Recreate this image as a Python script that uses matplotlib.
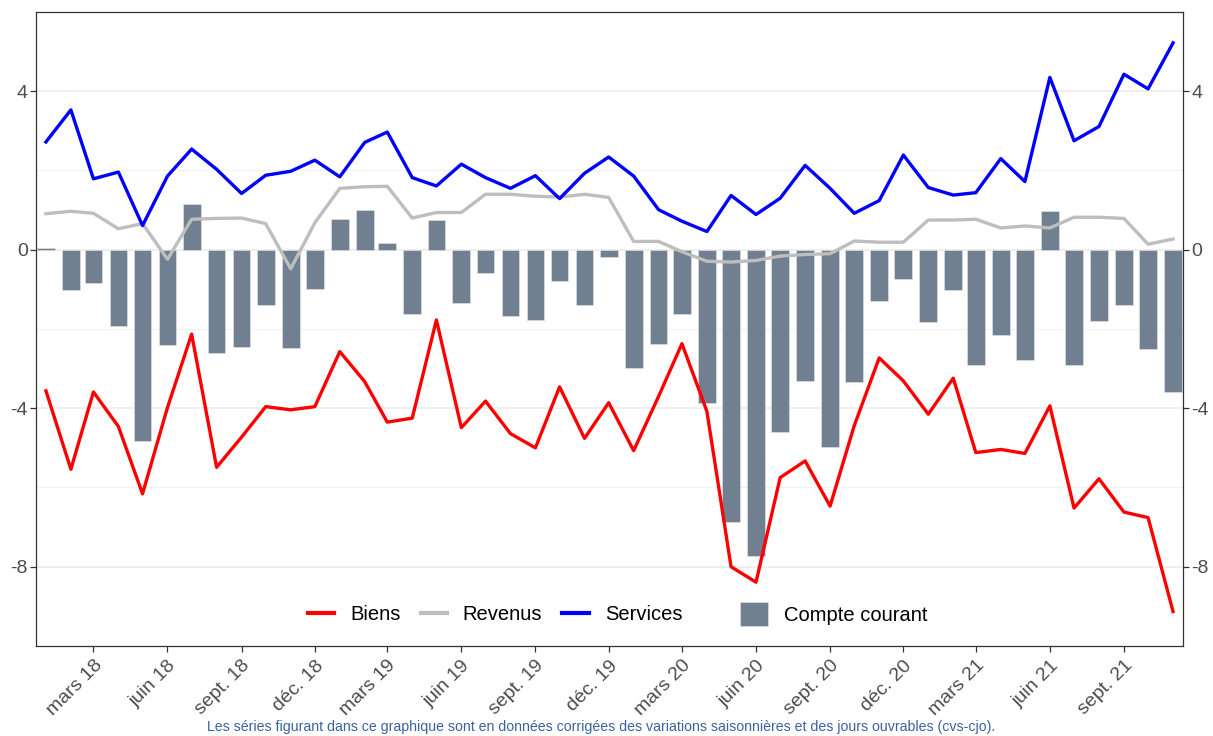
import numpy as np
import pandas as pd
import matplotlib
matplotlib.use("Agg")
from matplotlib import pyplot as plt
from matplotlib.lines import Line2D
from matplotlib.patches import Patch

plt.rcParams['font.family'] = ['Liberation Sans', 'DejaVu Sans']

# monthly data, Jan 2018 -> Nov 2021
months = pd.date_range('2018-01-01', '2021-11-01', freq='MS')

biens = [-3.56, -5.54, -3.59, -4.46, -6.16, -3.98, -2.13, -5.49, -4.73, -3.96,
         -4.04, -3.96, -2.57, -3.33, -4.35, -4.25, -1.77, -4.49, -3.82, -4.64,
         -5.00, -3.46, -4.76, -3.86, -5.07, -3.70, -2.37, -4.08, -8.00, -8.39,
         -5.75, -5.33, -6.47, -4.44, -2.73, -3.31, -4.15, -3.24, -5.12, -5.04,
         -5.14, -3.94, -6.52, -5.78, -6.62, -6.76, -9.13]

revenus = [0.91, 0.97, 0.92, 0.53, 0.66, -0.24, 0.77, 0.79, 0.80, 0.66,
           -0.48, 0.68, 1.55, 1.59, 1.60, 0.80, 0.94, 0.94, 1.40, 1.40,
           1.35, 1.33, 1.40, 1.32, 0.21, 0.21, -0.05, -0.29, -0.31, -0.27,
           -0.16, -0.12, -0.10, 0.22, 0.19, 0.19, 0.75, 0.75, 0.77, 0.55,
           0.60, 0.55, 0.82, 0.82, 0.79, 0.14, 0.27]

services = [2.72, 3.53, 1.79, 1.96, 0.61, 1.86, 2.54, 2.03, 1.42, 1.88,
            1.98, 2.26, 1.84, 2.71, 2.97, 1.82, 1.61, 2.16, 1.82, 1.55,
            1.87, 1.29, 1.93, 2.34, 1.86, 1.01, 0.72, 0.46, 1.37, 0.89,
            1.30, 2.13, 1.55, 0.92, 1.24, 2.39, 1.57, 1.38, 1.44, 2.30,
            1.72, 4.35, 2.75, 3.11, 4.43, 4.06, 5.22]

compte_courant = [0.05, -1.01, -0.85, -1.93, -4.83, -2.40, 1.16, -2.61, -2.46, -1.40,
                  -2.49, -1.00, 0.77, 1.00, 0.18, -1.61, 0.74, -1.35, -0.58, -1.67,
                  -1.77, -0.79, -1.40, -0.19, -2.98, -2.39, -1.62, -3.86, -6.88, -7.73,
                  -4.59, -3.30, -4.99, -3.34, -1.29, -0.73, -1.82, -1.02, -2.90, -2.14,
                  -2.77, 0.97, -2.90, -1.81, -1.39, -2.51, -3.59]

mois = ['mars', 'juin', 'sept.', 'déc.']
tick_dates = pd.date_range('2018-03-01', '2021-09-01', freq='3MS')
tick_labels = [mois[(d.month - 3) // 3] + ' ' + str(d.year)[2:] for d in tick_dates]

caption = ("Les séries figurant dans ce graphique sont en données corrigées "
           "des variations saisonnières et des jours ouvrables (cvs-cjo).")

fig = plt.figure(figsize=(12.13, 7.36), dpi=100)
ax = fig.add_axes([0.0297, 0.1223, 0.9456, 0.8614])

for y in [-6, -2, 2]:
    ax.axhline(y, color='#f2f2f2', lw=0.8, zorder=0)
for y in [-8, -4, 0, 4]:
    ax.axhline(y, color='#ebebeb', lw=1.1, zorder=0)

ax.bar(months, compte_courant, width=22, color='#708090', edgecolor='#e6e6e6',
       linewidth=0.4, zorder=2)
ax.plot(months, biens, color='#ff0000', lw=2.4, zorder=3)
ax.plot(months, revenus, color='#bebebe', lw=2.4, zorder=3)
ax.plot(months, services, color='#0000ff', lw=2.4, zorder=4)

ax.set_ylim(-10, 6)
ax.set_xlim(months[0] - pd.Timedelta(days=12.3), months[-1] + pd.Timedelta(days=12.4))
ax.set_yticks([-8, -4, 0, 4])
ax.set_yticklabels(['-8', '-4', '0', '4'])
ax.set_xticks(tick_dates)
ax.set_xticklabels(tick_labels, rotation=45, ha='right', va='top',
                   rotation_mode='anchor')

ax.tick_params(axis='both', colors='#333333', labelcolor='#4d4d4d',
               labelsize=14, length=4, width=0.9, direction='out')
ax.tick_params(axis='y', right=True, labelright=True, pad=2)
ax.tick_params(axis='x', pad=4)
for s in ax.spines.values():
    s.set_color('#333333')
    s.set_linewidth(0.9)

line_handles = [Line2D([], [], color='#ff0000', lw=3),
                Line2D([], [], color='#bebebe', lw=3),
                Line2D([], [], color='#0000ff', lw=3)]
leg1 = ax.legend(line_handles, ['Biens', 'Revenus', 'Services'], ncol=3,
                 loc='center', bbox_to_anchor=(495 / 1213, 1 - 615 / 736),
                 bbox_transform=fig.transFigure, frameon=False, fontsize=14.5,
                 handlelength=1.3, handletextpad=0.8, columnspacing=1.0)
ax.add_artist(leg1)
ax.legend([Patch(facecolor='#708090', edgecolor='#e6e6e6', lw=0.4)],
          ['Compte courant'], loc='center',
          bbox_to_anchor=(834 / 1213, 1 - 614 / 736),
          bbox_transform=fig.transFigure, frameon=False, fontsize=14.5,
          handlelength=1.4, handleheight=1.4, handletextpad=0.8)

fig.text(0.5 - 5 / 1213, 1 - 727 / 736, caption, ha='center', va='center',
         fontsize=10.2, color='#3a62a0')

fig.savefig('out.png', dpi=100)
